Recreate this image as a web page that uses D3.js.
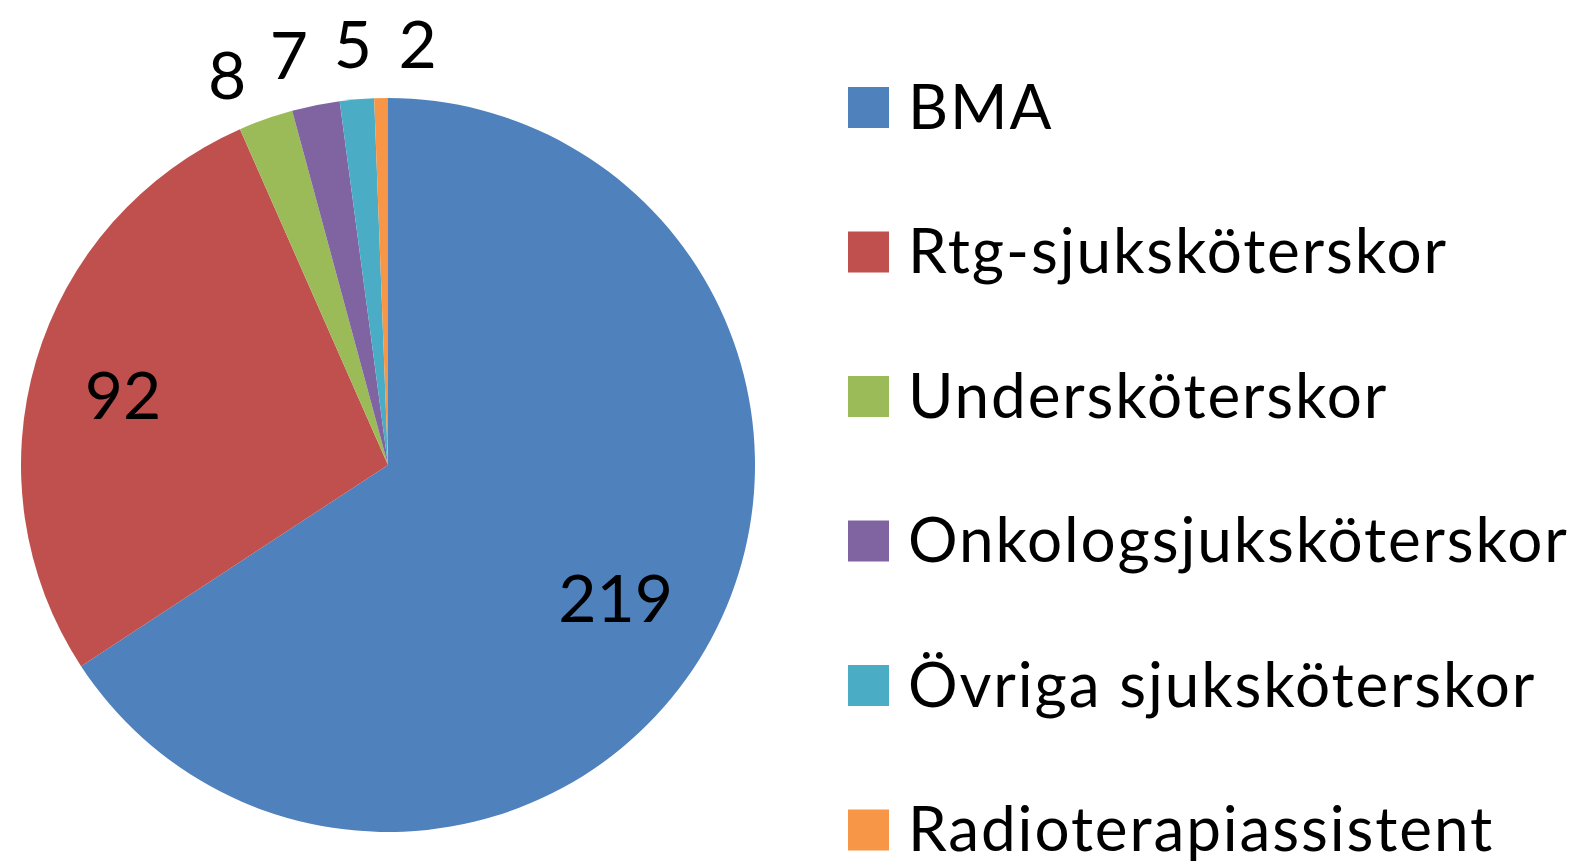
<!DOCTYPE html>
<html><head><meta charset="utf-8">
<script src="https://cdn.jsdelivr.net/npm/d3@7"></script>
<style>html,body{margin:0;padding:0;background:#fff;}svg{display:block;}</style>
</head><body>
<svg id="chart" width="1584" height="861"></svg>
<script>
const categories = ["BMA","Rtg-sjuksköterskor","Undersköterskor","Onkologsjuksköterskor","Övriga sjuksköterskor","Radioterapiassistent"];
const values = [219, 92, 8, 7, 5, 2];
const colors = ["#4F81BD","#C0504D","#9BBB59","#8064A2","#4BACC6","#F79646"];

const W = 1584, H = 861;
const cx = 388, cy = 465, R = 367;
const FONT = "Lato, 'Open Sans', sans-serif";

const svg = d3.select("#chart");
const data = categories.map((c,i)=>({name:c, value:values[i], color:colors[i]}));
const pie = d3.pie().sort(null).value(d=>d.value);
const arcs = pie(data);
const arc = d3.arc().innerRadius(0).outerRadius(R);
const g = svg.append("g").attr("transform",`translate(${cx},${cy})`);
g.selectAll("path").data(arcs).join("path").attr("d",arc).attr("fill",d=>d.data.color);

// labels
const inside = arcs.filter(a => (a.endAngle-a.startAngle) > 0.3);
const outside = arcs.filter(a => (a.endAngle-a.startAngle) <= 0.3);
const inArc = d3.arc().innerRadius(R*0.73).outerRadius(R*0.73);
g.selectAll("text.in").data(inside).join("text").attr("class","in")
  .attr("transform",d=>{ const c=inArc.centroid(d); return `translate(${c[0]-8},${c[1]+6})`; })
  .attr("text-anchor","middle").attr("dy","0.36em")
  .attr("font-family",FONT).attr("font-size",66).attr("fill","#000")
  .text(d=>d.data.value);

// outside labels: spread by mid angles with min separation
let angs = outside.map(a => { let m=(a.startAngle+a.endAngle)/2; if(m>Math.PI) m-=2*Math.PI; return m; });
const minSep = 8.8*Math.PI/180;
for (let it=0; it<300; it++) {
  for (let i=1;i<angs.length;i++){
    const gap = angs[i]-angs[i-1];
    if (gap < minSep){ const d=(minSep-gap)/2; angs[i-1]-=d; angs[i]+=d; }
  }
}
const Ro = R*1.15;
g.selectAll("text.out").data(outside).join("text").attr("class","out")
  .attr("x",(d,i)=>Ro*Math.sin(angs[i]))
  .attr("y",(d,i)=>-Ro*Math.cos(angs[i]))
  .attr("text-anchor","middle").attr("dy","0.36em")
  .attr("font-family",FONT).attr("font-size",66).attr("fill","#000")
  .text(d=>d.data.value);

// legend
const ly = d3.scalePoint().domain(categories).range([107.5, 830]);
const lg = svg.append("g");
const items = lg.selectAll("g").data(data).join("g")
  .attr("transform",d=>`translate(848,${ly(d.name)})`);
items.append("rect").attr("x",0).attr("y",-20.5).attr("width",41).attr("height",41).attr("fill",d=>d.color);
items.append("text").attr("x",60).attr("y",21)
  .attr("font-family",FONT).attr("font-size",62).attr("letter-spacing",1.9).attr("fill","#000")
  .text(d=>d.name);
</script>
</body></html>
